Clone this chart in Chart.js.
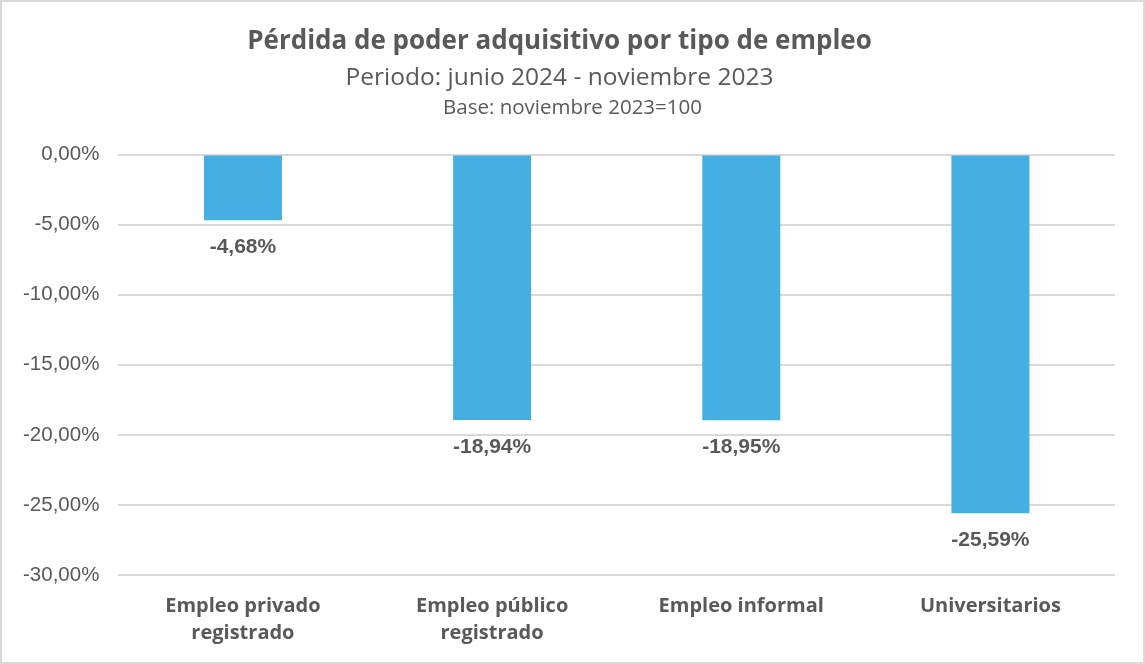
<!DOCTYPE html>
<html>
<head>
<meta charset="utf-8">
<script src="https://cdn.jsdelivr.net/npm/chart.js@4"></script>
<style>
  html, body { margin: 0; padding: 0; background: #fff; }
  .box { width: 1141px; height: 660px; border: 2px solid #d9d9d9; position: relative; }
</style>
</head>
<body>
<div class="box"><canvas id="lossChart"></canvas></div>
<script>
const categories = [['Empleo privado', 'registrado'], ['Empleo público', 'registrado'], 'Empleo informal', 'Universitarios']
const losses = [-4.68, -18.94, -18.95, -25.59]
const yTicks = [0, -5, -10, -15, -20, -25, -30]

const TEXT_FONT = '"Open Sans", "Noto Sans", sans-serif'
const NUM_FONT = '"Liberation Sans", Arial, sans-serif'
const GREY = '#595959'

const fmt = v => v.toFixed(2).replace('.', ',') + '%'

// valores debajo de cada barra + linea "Base"
const labelsPlugin = {
    id: 'barLabels',
    afterDatasetsDraw(chart) {
        const ctx = chart.ctx
        const meta = chart.getDatasetMeta(0)
        ctx.save()
        ctx.fillStyle = GREY
        ctx.font = 'bold 21px ' + NUM_FONT
        ctx.textAlign = 'center'
        ctx.textBaseline = 'middle'
        meta.data.forEach((bar, i) => {
            ctx.fillText(fmt(losses[i]), bar.x, bar.y + 27)
        })
        ctx.font = '20.5px ' + TEXT_FONT
        ctx.fillText('Base: noviembre 2023=100', chart.width / 2, 106)
        ctx.restore()
    }
}

var ctx = document.getElementById('lossChart').getContext('2d')
var lossChart = new Chart(ctx, {
    type: 'bar',
    data: {
        labels: categories,
        datasets: [{
            data: losses,
            backgroundColor: '#45afe1',
            barPercentage: 1,
            categoryPercentage: 0.313
        }]
    },
    options: {
        responsive: true,
        maintainAspectRatio: false,
        animation: false,
        layout: { padding: { left: 2, right: 28, top: 0, bottom: -3 } },
        plugins: {
            legend: { display: false },
            tooltip: { enabled: false },
            title: {
                display: true,
                text: 'Pérdida de poder adquisitivo por tipo de empleo',
                color: GREY,
                font: { family: TEXT_FONT, size: 26, weight: 'bold', lineHeight: 1.2 },
                padding: { top: 24, bottom: 6 }
            },
            subtitle: {
                display: true,
                text: 'Periodo: junio 2024 - noviembre 2023',
                color: GREY,
                font: { family: TEXT_FONT, size: 24.5, lineHeight: 1.2 },
                padding: { top: 0, bottom: 62 }
            }
        },
        scales: {
            x: {
                grid: { display: false, drawTicks: false },
                border: { display: false },
                ticks: {
                    color: GREY,
                    font: { family: TEXT_FONT, size: 20, weight: 'bold', lineHeight: 1.35 },
                    padding: 18,
                    maxRotation: 0
                }
            },
            y: {
                min: -30,
                max: 0,
                afterBuildTicks: axis => { axis.ticks = yTicks.map(v => ({ value: v })) },
                grid: { color: '#d9d9d9', lineWidth: 2, drawTicks: false },
                border: { display: false },
                ticks: {
                    color: GREY,
                    font: { family: NUM_FONT, size: 20.5 },
                    padding: 19,
                    callback: v => fmt(v)
                }
            }
        }
    },
    plugins: [labelsPlugin]
})
</script>
</body>
</html>
